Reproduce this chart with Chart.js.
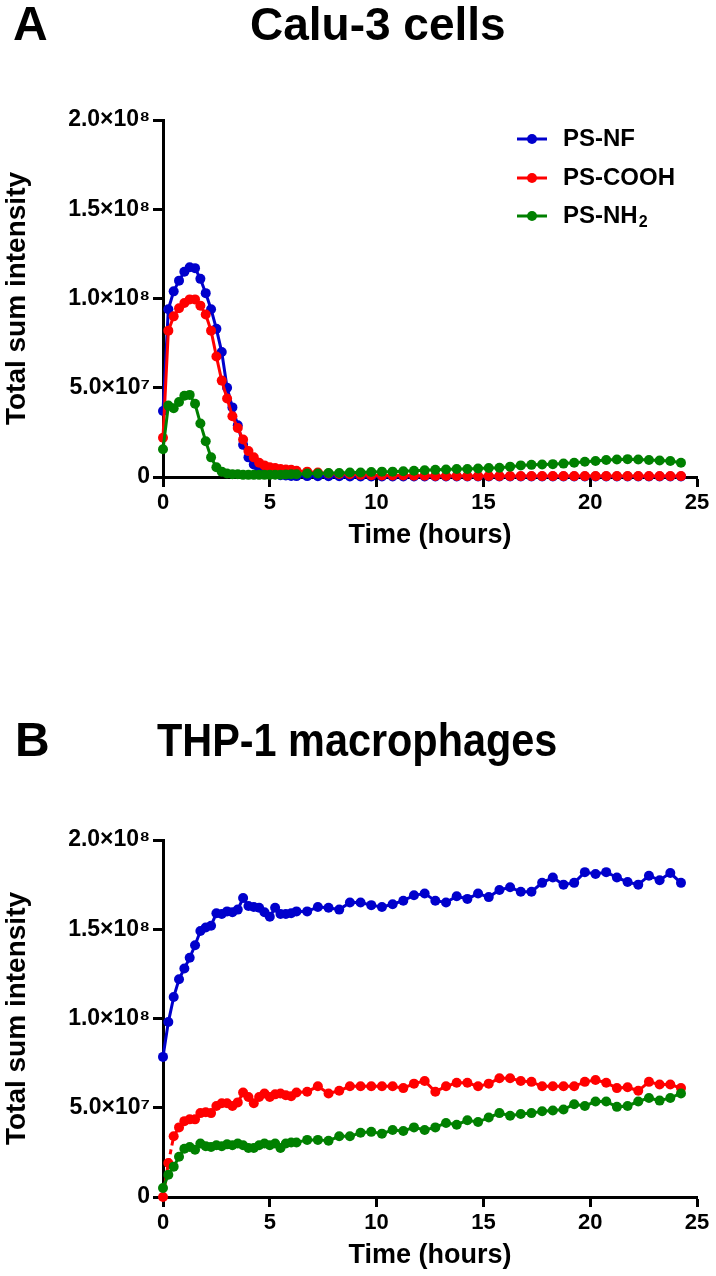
<!DOCTYPE html>
<html>
<head>
<meta charset="utf-8">
<script src="https://cdn.jsdelivr.net/npm/chart.js@4.4.0/dist/chart.umd.min.js"></script>
<style>
  body { margin: 0; background: #fff; width: 716px; height: 1276px; position: relative; overflow: hidden; font-family: "Liberation Sans", Arial, sans-serif; }
  canvas { position: absolute; left: 0; }
  .lbl { position: absolute; font-weight: bold; line-height: 1; color: #000; white-space: nowrap; transform-origin: 0 0; }
</style>
</head>
<body>
<canvas id="chartA" width="716" height="640" style="top:0"></canvas>
<canvas id="chartB" width="716" height="636" style="top:640px"></canvas>
<div class="lbl" style="left:13px;top:0px;font-size:48px">A</div>
<div class="lbl" style="left:250px;top:1px;font-size:46px">Calu-3 cells</div>
<div class="lbl" style="left:15px;top:716px;font-size:48px">B</div>
<div class="lbl" style="left:157px;top:717px;font-size:46px;transform:scaleX(0.9)">THP-1 macrophages</div>
<script>
// time points (hours): every 15 min for the first 6 h, then every 30 min
const times = [0, 0.25, 0.5, 0.75, 1, 1.25, 1.5, 1.75, 2, 2.25, 2.5, 2.75, 3, 3.25, 3.5, 3.75,
  4, 4.25, 4.5, 4.75, 5, 5.25, 5.5, 5.75, 6, 6.25,
  6.75, 7.25, 7.75, 8.25, 8.75, 9.25, 9.75, 10.25, 10.75, 11.25, 11.75, 12.25, 12.75, 13.25,
  13.75, 14.25, 14.75, 15.25, 15.75, 16.25, 16.75, 17.25, 17.75, 18.25, 18.75, 19.25, 19.75,
  20.25, 20.75, 21.25, 21.75, 22.25, 22.75, 23.25, 23.75, 24.25];

const seriesNames = ["PS-NF", "PS-COOH", "PS-NH₂"];
const legendText = [["PS-NF", ""], ["PS-COOH", ""], ["PS-NH", "2"]];
const seriesColors = ["#0000cc", "#ff0000", "#008000"];

// values in units of 1e7
const caluNF = [3.7, 9.4, 10.4, 11.0, 11.5, 11.75, 11.7, 11.1, 10.3, 9.4, 8.3, 7.0, 5.0, 3.9, 2.9, 1.8,
  1.1, 0.7, 0.45, 0.3, 0.2, 0.15, 0.1, 0.08, 0.06, 0.05,
  0.05, 0.04, 0.04, 0.04, 0.03, 0.03, 0.03, 0.03, 0.03, 0.03, 0.03, 0.03, 0.03, 0.03, 0.03, 0.03,
  0.03, 0.03, 0.03, 0.03, 0.03, 0.03, 0.03, 0.03, 0.03, 0.03, 0.03, 0.03, 0.03, 0.03, 0.03, 0.03,
  0.03, 0.03, 0.03, 0.03];
const caluCOOH = [2.2, 8.2, 9.0, 9.45, 9.75, 9.95, 9.95, 9.6, 9.1, 8.2, 6.75, 5.4, 4.4, 3.4, 2.75, 2.1,
  1.45, 1.1, 0.8, 0.65, 0.55, 0.5, 0.45, 0.42, 0.4, 0.35,
  0.3, 0.25, 0.2, 0.17, 0.15, 0.12, 0.1, 0.09, 0.08, 0.08, 0.07, 0.07, 0.06, 0.06, 0.06, 0.05,
  0.05, 0.05, 0.05, 0.05, 0.05, 0.05, 0.05, 0.05, 0.05, 0.05, 0.05, 0.05, 0.05, 0.05, 0.05, 0.05,
  0.05, 0.05, 0.05, 0.05];
const caluNH2 = [1.55, 4.0, 3.85, 4.2, 4.55, 4.6, 4.1, 3.0, 2.0, 1.1, 0.55, 0.3, 0.2, 0.15, 0.15, 0.12,
  0.12, 0.12, 0.12, 0.12, 0.12, 0.13, 0.13, 0.14, 0.15, 0.15,
  0.2, 0.2, 0.22, 0.22, 0.25, 0.25, 0.28, 0.3, 0.3, 0.32, 0.35, 0.38, 0.4, 0.42, 0.45, 0.45,
  0.48, 0.5, 0.52, 0.58, 0.65, 0.68, 0.7, 0.72, 0.75, 0.8, 0.85, 0.9, 0.95, 0.98, 1.0, 0.98,
  0.95, 0.92, 0.9, 0.8];

const thpNF = [7.85, 9.8, 11.2, 12.2, 12.8, 13.4, 14.1, 14.9, 15.1, 15.2, 15.9, 15.85, 16.0, 15.95, 16.1, 16.75,
  16.3, 16.25, 16.2, 15.95, 15.7, 16.2, 15.85, 15.85, 15.9, 16.0,
  16.0, 16.25, 16.2, 16.1, 16.5, 16.5, 16.35, 16.25, 16.4, 16.6, 16.9, 17.0, 16.6, 16.5, 16.85, 16.7,
  17.0, 16.8, 17.2, 17.35, 17.1, 17.1, 17.6, 17.9, 17.5, 17.6, 18.2, 18.1, 18.2, 17.9, 17.65, 17.5,
  18.0, 17.75, 18.15, 17.6];
const thpCOOH = [0, 1.9, 3.4, 3.9, 4.25, 4.35, 4.35, 4.7, 4.75, 4.7, 5.1, 5.25, 5.25, 5.1, 5.3, 5.85,
  5.6, 5.25, 5.6, 5.8, 5.6, 5.75, 5.8, 5.7, 5.65, 5.85,
  5.9, 6.2, 5.8, 5.95, 6.2, 6.2, 6.2, 6.2, 6.2, 6.1, 6.35, 6.5, 5.9, 6.2, 6.4, 6.4,
  6.2, 6.35, 6.65, 6.65, 6.5, 6.45, 6.2, 6.2, 6.2, 6.2, 6.45, 6.55, 6.4, 6.1, 6.15, 5.95,
  6.45, 6.3, 6.3, 6.1];
const thpNH2 = [0.5, 1.25, 1.7, 2.25, 2.7, 2.8, 2.65, 3.0, 2.85, 2.8, 2.9, 2.85, 2.95, 2.9, 3.0, 2.9,
  2.75, 2.75, 2.9, 3.0, 2.9, 3.0, 2.75, 3.0, 3.05, 3.05,
  3.2, 3.2, 3.15, 3.4, 3.4, 3.6, 3.65, 3.55, 3.75, 3.7, 3.9, 3.75, 3.9, 4.15, 4.05, 4.3,
  4.2, 4.45, 4.7, 4.55, 4.65, 4.7, 4.8, 4.85, 4.9, 5.2, 5.1, 5.35, 5.35, 5.05, 5.1, 5.35,
  5.55, 5.4, 5.55, 5.8];

const yTickLabels = ["0", "5.0×10⁷", "1.0×10⁸", "1.5×10⁸", "2.0×10⁸"];

const family = "'Liberation Sans', Arial, sans-serif";

function points(vals) {
  return vals.map((v, i) => ({ x: times[i], y: v * 1e7 }));
}

function dataset(i, vals, dashAt) {
  return {
    label: seriesNames[i],
    data: points(vals),
    borderColor: seriesColors[i],
    backgroundColor: seriesColors[i],
    pointBackgroundColor: seriesColors[i],
    borderWidth: 3,
    pointRadius: 5,
    pointBorderWidth: 0,
    order: 2 - i,
    clip: false,
    segment: {
      borderDash: ctx => ctx.p0DataIndex === dashAt ? [5, 4] : undefined
    }
  };
}

// legend drawn inside the plot, line + dot like the original
const insideLegend = {
  id: "insideLegend",
  afterDraw(chart, args, opts) {
    if (!opts.show) return;
    const ctx = chart.ctx;
    ctx.save();
    ctx.textBaseline = "middle";
    legendText.forEach((t, i) => {
      const y = opts.rows[i];
      ctx.strokeStyle = seriesColors[i];
      ctx.lineWidth = 3;
      ctx.beginPath();
      ctx.moveTo(opts.x, y);
      ctx.lineTo(opts.x + 30, y);
      ctx.stroke();
      ctx.fillStyle = seriesColors[i];
      ctx.beginPath();
      ctx.arc(opts.x + 15, y, 5, 0, Math.PI * 2);
      ctx.fill();
      ctx.fillStyle = "#000";
      ctx.font = "bold 24px " + family;
      ctx.fillText(t[0], opts.x + 46, y);
      if (t[1]) {
        const w = ctx.measureText(t[0]).width;
        ctx.font = "bold 16px " + family;
        ctx.fillText(t[1], opts.x + 47 + w, y + 7);
      }
    });
    ctx.restore();
  }
};

function options(padTop, padBottom, showLegend) {
  return {
    responsive: false,
    animation: false,
    layout: { padding: { top: padTop, right: 19, bottom: padBottom, left: 0 } },
    plugins: {
      legend: { display: false },
      tooltip: { enabled: false },
      insideLegend: { show: showLegend, x: 517, rows: [139, 178, 216] }
    },
    scales: {
      x: {
        type: "linear",
        min: 0,
        max: 25,
        afterFit: s => { s.height = 75; },
        border: { color: "#000", width: 3 },
        grid: { drawOnChartArea: false, tickLength: 10, tickWidth: 3, tickColor: "#000" },
        ticks: { stepSize: 5, color: "#000", padding: 3, maxRotation: 0,
          font: { family: family, size: 22, weight: "bold" } },
        title: { display: true, text: "Time (hours)", color: "#000", padding: 0,
          font: { family: family, size: 27, weight: "bold" } }
      },
      y: {
        min: 0,
        max: 2e8,
        afterFit: s => { s.width = 163; },
        border: { color: "#000", width: 3 },
        grid: { drawOnChartArea: false, tickLength: 10, tickWidth: 3, tickColor: "#000" },
        ticks: { stepSize: 5e7, color: "#000", padding: 3,
          font: { family: family, size: 23, weight: "bold" },
          callback: v => yTickLabels[Math.round(v / 5e7)] },
        title: { display: true, text: "Total sum intensity", color: "#000", padding: 0,
          font: { family: family, size: 28, weight: "bold" } }
      }
    }
  };
}

new Chart(document.getElementById("chartA"), {
  type: "line",
  data: { datasets: [dataset(0, caluNF), dataset(1, caluCOOH), dataset(2, caluNH2)] },
  options: options(120, 88, true),
  plugins: [insideLegend]
});

new Chart(document.getElementById("chartB"), {
  type: "line",
  data: { datasets: [dataset(0, thpNF), dataset(1, thpCOOH, 1), dataset(2, thpNH2)] },
  options: options(200, 4, false),
  plugins: [insideLegend]
});
</script>
</body>
</html>
